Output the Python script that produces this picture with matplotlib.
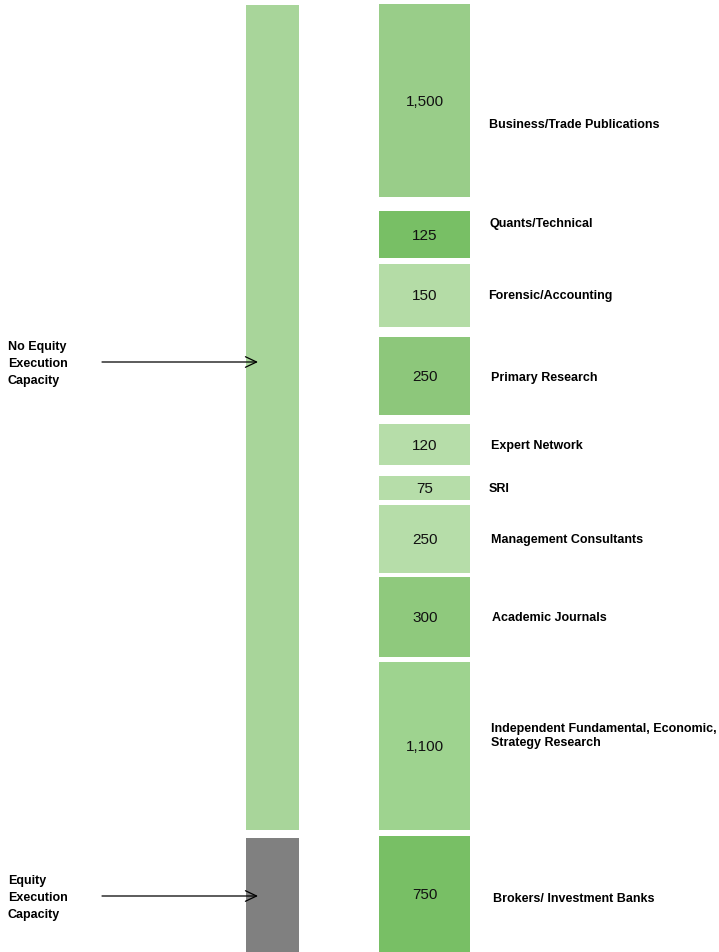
import numpy as np
import matplotlib.pyplot as plt

# Right column: research sources (top to bottom)
sources = ['Business/Trade Publications', 'Quants/Technical', 'Forensic/Accounting',
           'Primary Research', 'Expert Network', 'SRI', 'Management Consultants',
           'Academic Journals', 'Independent Fundamental, Economic,\nStrategy Research',
           'Brokers/ Investment Banks']
spend = [1500, 125, 150, 250, 120, 75, 250, 300, 1100, 750]
colors = ['#99cd89', '#78bf65', '#b4dca6', '#8dc77b', '#b6dda9', '#b6dda9',
          '#b6dda9', '#8fc97d', '#9ed38f', '#78bf65']

# Left column: capacity groups
groups = ['No Equity\nExecution\nCapacity', 'Equity\nExecution\nCapacity']
group_colors = ['#a8d59a', '#808080']

# Drawn sizes of the blocks (pixels - not proportional to spend)
seg_heights = [193, 47, 63, 78, 41, 24, 68, 80, 168, 116]
seg_gaps = [4, 14, 6, 10, 9, 11, 5, 4, 5, 6]
label_dy = [24, -11, 1, 2, 1, 1, 1, 1, -10, 5]
label_x = [489, 489, 488, 491, 491, 489, 491, 492, 491, 493]
group_heights = [825, 114]
group_gaps = [5, 8]

W, H = 719, 952
fig = plt.figure(figsize=(W / 100, H / 100), dpi=100)
ax = fig.add_axes([0, 0, 1, 1])
ax.set_xlim(0, W)
ax.set_ylim(H, 0)
ax.axis('off')

font = ['Liberation Sans', 'DejaVu Sans']

# right stacked column
bottoms = []
y = 0
for h, g in zip(seg_heights, seg_gaps):
    y += g
    bottoms.append(y)
    y += h
ax.bar([424] * len(spend), seg_heights, bottom=bottoms, width=91,
       color=colors, align='center')

for i in range(len(spend)):
    yc = bottoms[i] + seg_heights[i] / 2
    ax.text(425, yc + 1, f'{spend[i]:,}', ha='center', va='center',
            fontsize=11, family=font, color='#111111')
    ax.text(label_x[i], yc + label_dy[i], sources[i], ha='left', va='center',
            fontsize=9, fontweight='bold', linespacing=1.25, family=font)

# left stacked column
gb = []
y = 0
for h, g in zip(group_heights, group_gaps):
    y += g
    gb.append(y)
    y += h
ax.bar([272.5] * 2, group_heights, bottom=gb, width=53, color=group_colors)

arrow_y = [362, 896]
for i in range(2):
    ax.annotate('', xy=(258, arrow_y[i]), xytext=(102, arrow_y[i]),
                arrowprops=dict(arrowstyle='->,head_length=0.8,head_width=0.38',
                                color='black', lw=0.9, shrinkA=0, shrinkB=0))
    ax.text(8, arrow_y[i] + 2, groups[i], ha='left', va='center',
            fontsize=9, fontweight='bold', linespacing=1.6, family=font)

fig.savefig('out.png', dpi=100)
